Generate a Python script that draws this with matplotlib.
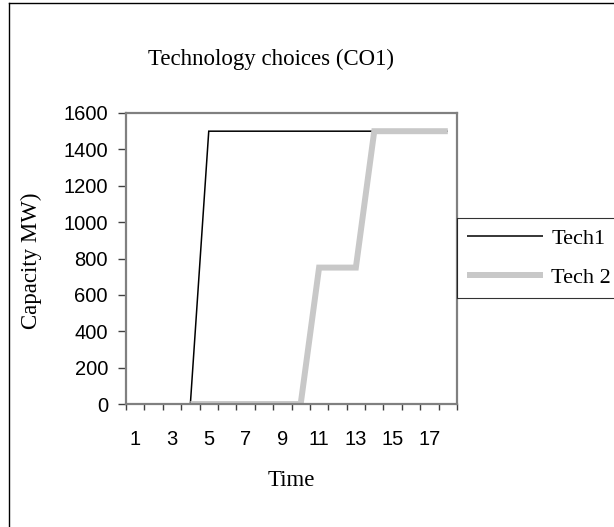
import numpy as np
import matplotlib
matplotlib.use('Agg')
import matplotlib.pyplot as plt
from matplotlib.lines import Line2D


periods = list(range(1, 19))
tech1 = [0, 0, 0, 0, 1500, 1500, 1500, 1500, 1500, 1500,
         1500, 1500, 1500, 1500, 1500, 1500, 1500, 1500]
tech2 = [np.nan, np.nan, np.nan, 0, 0, 0, 0, 0, 0, 0,
         750, 750, 750, 1500, 1500, 1500, 1500, 1500]
y_ticks = [0, 200, 400, 600, 800, 1000, 1200, 1400, 1600]
x_labels = [1, 3, 5, 7, 9, 11, 13, 15, 17]

serif = 'Liberation Serif'
sans = 'Liberation Sans'
W, H = 614, 527

fig = plt.figure(figsize=(W / 100, H / 100), dpi=100)
ax = fig.add_axes([126 / W, 1 - 404 / H, 331 / W, 291 / H])

ax.plot(periods, tech1, color='black', lw=1.1, label='Tech1',
        solid_joinstyle='miter', solid_capstyle='butt')
ax.plot(periods, tech2, color='#c8c8c8', lw=4.3, label='Tech 2',
        solid_joinstyle='miter', solid_capstyle='butt')

ax.set_xlim(0.5, 18.5)
ax.set_ylim(0, 1600)

ax.set_yticks(y_ticks)
ax.set_xticks(x_labels)
ax.set_xticks(np.arange(0.5, 19, 1), minor=True)
ax.tick_params(axis='x', which='major', length=0, pad=19)
ax.tick_params(axis='x', which='minor', length=4, width=1, color='#404040')
ax.tick_params(axis='y', length=6, width=1, color='#404040', pad=7)
for lbl in ax.get_xticklabels() + ax.get_yticklabels():
    lbl.set_fontfamily(sans)
    lbl.set_fontsize(14.5)

for sp in ax.spines.values():
    sp.set_color('#808080')
    sp.set_linewidth(1.6)

# titles and axis names
fig.text(148 / W, 1 - 65 / H, 'Technology choices (CO1)', fontfamily=serif,
         fontsize=16.5, ha='left', va='baseline')
fig.text(291.5 / W, 1 - 480 / H, 'Time', fontfamily=serif, fontsize=16.5,
         ha='center', va='center')
fig.text(31 / W, 1 - 261 / H, 'Capacity MW)', fontfamily=serif, fontsize=16.5,
         ha='center', va='center', rotation=90)

leg = ax.legend(loc='upper left', bbox_to_anchor=(457 / W, 1 - 218 / H),
                bbox_transform=fig.transFigure, borderaxespad=0,
                prop={'family': serif, 'size': 16}, handlelength=3.4,
                handletextpad=0.4, labelspacing=0.85, borderpad=0.45,
                fancybox=False, frameon=True)
leg.get_frame().set_edgecolor('black')
leg.get_frame().set_linewidth(0.8)

# outer chart frame (only left and top edges fall inside the image)
fig.add_artist(Line2D([9 / W, 9 / W], [0, 1 - 3 / H], color='black', lw=1))
fig.add_artist(Line2D([9 / W, 1], [1 - 3 / H, 1 - 3 / H], color='black', lw=1))

fig.savefig('out.png', dpi=100)
